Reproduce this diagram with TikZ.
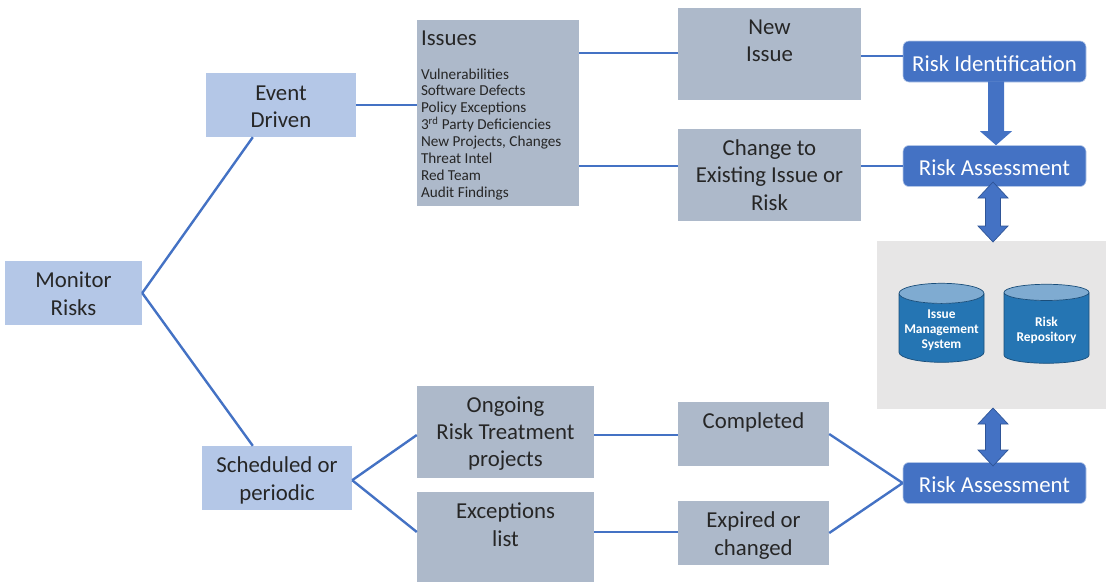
\documentclass[tikz,border=0pt]{standalone}
\usepackage{fontspec}
\setmainfont{Carlito}
\usetikzlibrary{shapes.geometric,calc}
\definecolor{lblue}{HTML}{B4C7E7}
\definecolor{slate}{HTML}{ADB9CA}
\definecolor{dblue}{HTML}{4472C4}
\definecolor{edgeb}{HTML}{2F5597}
\definecolor{pale}{HTML}{E7E6E6}
\definecolor{cylb}{HTML}{2575B3}
\definecolor{cylt}{HTML}{7FABD1}
\definecolor{cyle}{HTML}{1A4E7A}
\definecolor{ink}{HTML}{262626}
\newcommand{\topgap}[1]{\rule{0pt}{#1pt}}
\newcommand{\cyltext}[1]{\raisebox{-3pt}[10pt][3.4pt]{\setlength{\tabcolsep}{0pt}\renewcommand{\arraystretch}{1}\begin{tabular}{c}#1\end{tabular}}}
\tikzset{
  boxbase/.style={inner sep=0pt,align=center,text=ink,font=\fontsize{22.8}{27.3}\selectfont},
  lightbox/.style={boxbase,fill=lblue},
  slatebox/.style={boxbase,fill=slate},
  riskbox/.style={fill=dblue,draw=lblue,line width=0.6pt,rounded corners=6pt,text=white,inner sep=0pt,
    minimum width=183pt,minimum height=41pt,font=\fontsize{22.8}{27}\selectfont},
  link/.style={draw=dblue,line width=2.4pt},
  solidarrow/.style={fill=dblue,draw=none},
  dblarrow/.style={fill=dblue,draw=edgeb,line width=0.7pt},
  store/.style={cylinder,shape border rotate=90,aspect=0.27,cylinder uses custom fill,
    cylinder body fill=cylb,cylinder end fill=cylt,draw=cyle,line width=0.7pt,
    minimum width=85pt,minimum height=79pt,inner sep=0pt,align=center,text=white,
    font=\fontsize{13.4}{15}\selectfont\bfseries}
}
\begin{document}
\begin{tikzpicture}[x=1pt,y=-1pt]
\useasboundingbox (0,0) rectangle (1106,582);
\node[fill=pale,minimum width=229pt,minimum height=168pt,inner sep=0pt] (store) at (991.5,325) {};

\node[lightbox,minimum width=137pt,minimum height=64pt] (monitor) at (73.5,293) {\topgap{17}Monitor\\Risks};
\node[lightbox,minimum width=150pt,minimum height=64pt] (event) at (281,105) {\topgap{18}Event\\Driven};
\node[lightbox,minimum width=150pt,minimum height=64pt] (sched) at (277,478) {\topgap{20.7}Scheduled or\\periodic};

\node[slatebox,minimum width=162pt,minimum height=186pt] (issues) at (498,113)
  {\begin{minipage}[c][186pt][t]{154pt}\raggedright
   \vspace{11pt}
   {\fontsize{22.8}{25}\selectfont Issues\par}
   \vspace{16.5pt}
   \fontsize{15.2}{16.9}\selectfont Vulnerabilities\par Software Defects\par Policy Exceptions\par 3\textsuperscript{rd} Party Deficiencies\par New Projects, Changes\par Threat Intel\par Red Team\par Audit Findings\par
   \end{minipage}};
\node[slatebox,minimum width=183pt,minimum height=92pt] (newissue) at (769.5,54) {New\\Issue\\\mbox{}};
\node[slatebox,minimum width=183pt,minimum height=92pt] (change) at (769.5,175) {Change to\\Existing Issue or\\Risk};
\node[slatebox,minimum width=177pt,minimum height=92pt] (ongoing) at (505.5,432) {\topgap{19}Ongoing\\Risk Treatment\\projects};
\node[slatebox,minimum width=177pt,minimum height=90pt] (except) at (505.5,537) {\topgap{18}Exceptions\\list\\\mbox{}};
\node[slatebox,minimum width=151pt,minimum height=64pt] (completed) at (753.5,434) {Completed\\\mbox{}};
\node[slatebox,minimum width=151pt,minimum height=64pt] (expired) at (753.5,533) {\topgap{20.7}Expired or\\changed};

\node[riskbox] (riskid) at (994.5,61.5) {\topgap{19.7}Risk Identification};
\node[riskbox] (ra1) at (994.5,166) {\topgap{18.7}Risk Assessment};
\node[riskbox] (ra2) at (994.5,483) {\topgap{18.7}Risk Assessment};

\node[store] (ims) at (941.5,328) {\cyltext{Issue\\Management\\System}};
\node[store] (repo) at (1046.5,328) {\cyltext{Risk\\Repository}};

% connectors
\draw[link] (monitor.east) -- ($(event.south west)+(47,0)$);
\draw[link] (monitor.east) -- ($(sched.north west)+(51,0)$);
\draw[link] (event.east) -- (issues.west |- event.east);
\coordinate (iu) at ($(issues.north east)+(0,33)$);
\coordinate (il) at ($(issues.north east)+(0,146)$);
\draw[link] (iu) -- (newissue.west |- iu);
\draw[link] (il) -- (change.west |- il);
\coordinate (nr) at ($(riskid.west)+(0,-5.5)$);
\draw[link] (newissue.east |- nr) -- (nr);
\draw[link] (change.east |- ra1.west) -- (ra1.west);
\draw[link] ($(sched.south east)+(0,-30)$) -- ($(ongoing.west)+(0,3)$);
\draw[link] ($(sched.south east)+(0,-30)$) -- ($(except.west)+(0,-5)$);
\draw[link] ($(ongoing.east)+(0,3)$) -- ($(completed.west)+(0,1)$);
\draw[link] ($(except.east)+(0,-5)$) -- ($(expired.west)+(0,-1)$);
\draw[link] (completed.east) -- (ra2.west);
\draw[link] (expired.east) -- (ra2.west);

% block arrows
\coordinate (sa) at ($(riskid.south)+(1.5,-1)$);
\coordinate (sb) at ($(ra1.north)+(1.5,0)$);
\path[solidarrow] ($(sa)+(-8,0)$) -- ($(sa)+(8,0)$) -- ($(sb)+(8,-14)$) -- ++(8,0) -- (sb) -- ++(-16,-14) -- ++(8,0) -- cycle;
\coordinate (aa) at (993,182);
\coordinate (ab) at (993,242);
\draw[dblarrow] (aa) -- ++(15,16) -- ++(-7.5,0) -- ($(ab)+(7.5,-16)$) -- ++(7.5,0) -- (ab) -- ++(-15,-16) -- ++(7.5,0) -- ($(aa)+(-7.5,16)$) -- ++(-7.5,0) -- cycle;
\coordinate (ba) at (993,408);
\coordinate (bb) at (993,466);
\draw[dblarrow] (ba) -- ++(15,16) -- ++(-7.5,0) -- ($(bb)+(7.5,-16)$) -- ++(7.5,0) -- (bb) -- ++(-15,-16) -- ++(7.5,0) -- ($(ba)+(-7.5,16)$) -- ++(-7.5,0) -- cycle;
\end{tikzpicture}
\end{document}
